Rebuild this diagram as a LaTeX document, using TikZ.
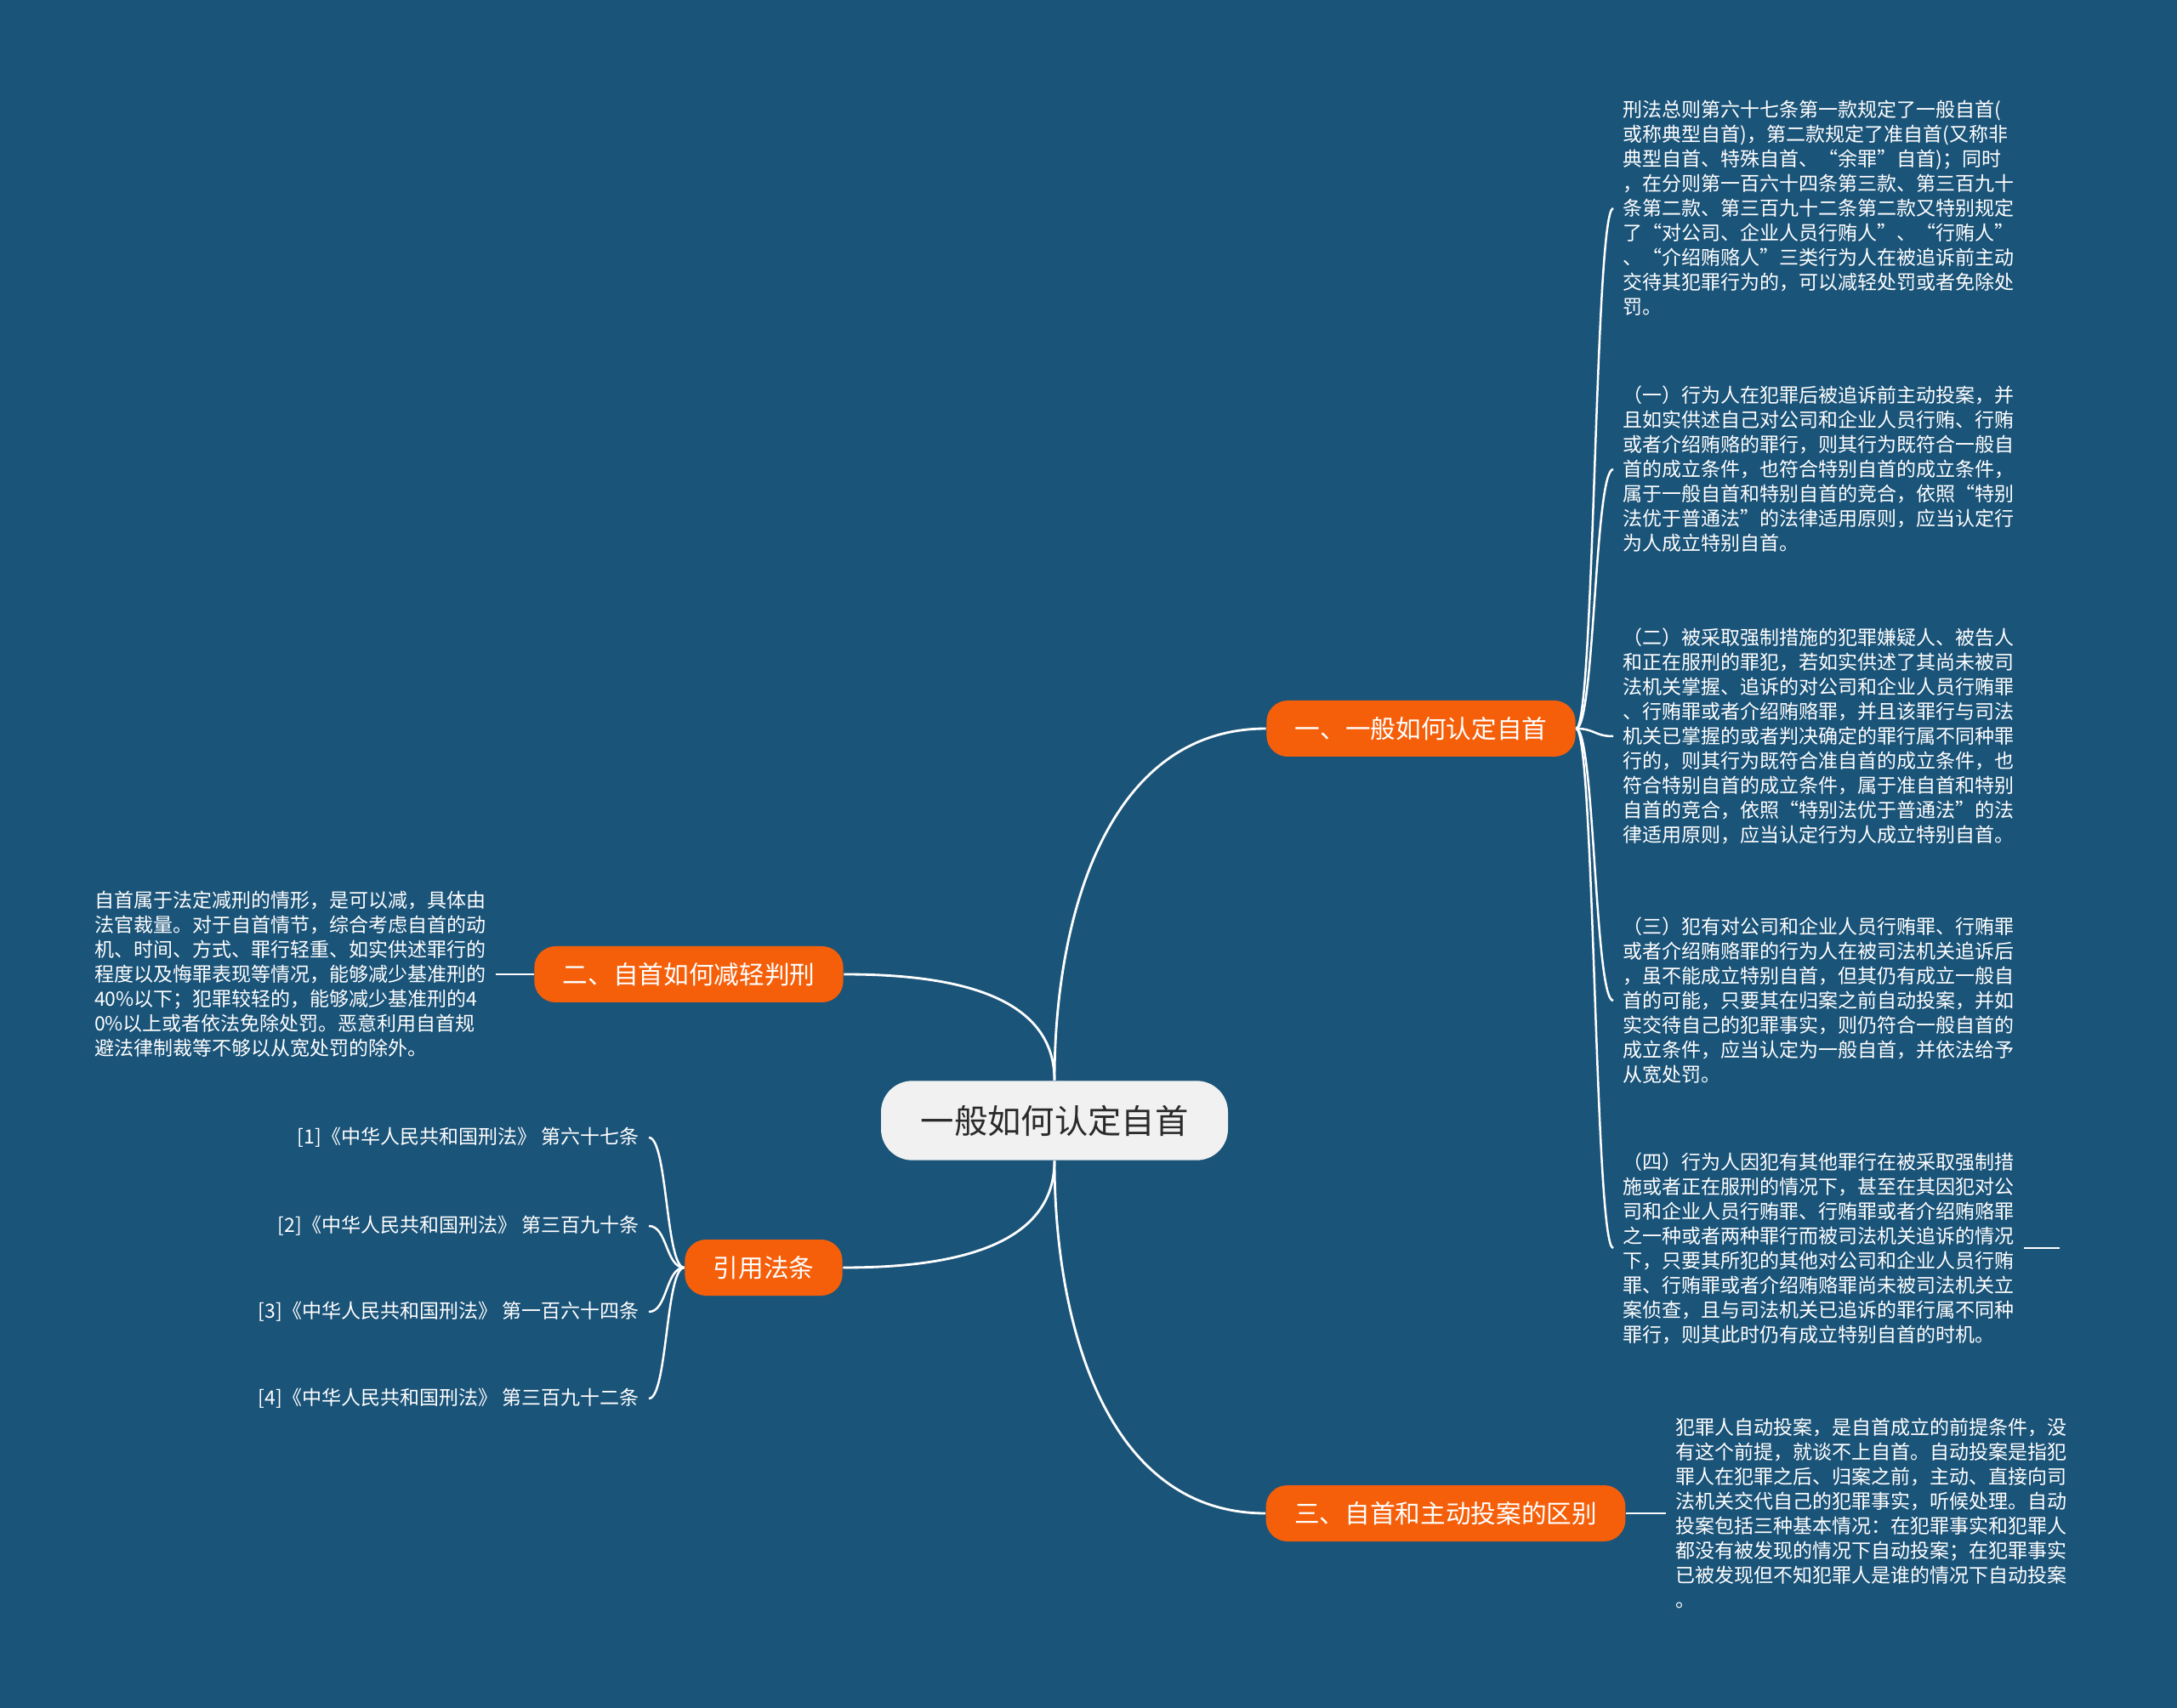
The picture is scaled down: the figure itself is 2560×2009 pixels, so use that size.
\documentclass[tikz,border=0pt]{standalone}
\usepackage{fontspec}
\setmainfont{Noto Sans CJK SC}
\usepackage{xcolor}
\usepackage{tikz}
\usetikzlibrary{positioning}
\definecolor{zsBlue}{HTML}{1B5479}
\definecolor{zsOrange}{HTML}{F55F0A}
\definecolor{zsPaper}{HTML}{F1F1F1}
\definecolor{zsInk}{HTML}{2A2A2A}
\tikzset{
  root box/.style={fill=zsPaper,text=zsInk,rounded corners=11pt,minimum height=28pt,
    inner xsep=14pt,font=\fontsize{11.8}{14}\selectfont},
  topic box/.style={fill=zsOrange,text=white,rounded corners=7.5pt,minimum height=19.8pt,
    inner xsep=10pt,font=\fontsize{8.9}{11}\selectfont},
  leaf text/.style={text=white,align=left,inner sep=3.3pt,font=\fontsize{6.9}{8.7}\selectfont},
  cite text/.style={leaf text,align=right},
  main link/.style={draw=white,line width=0.85pt},
  leaf link/.style={draw=white,line width=0.75pt,
    to path={.. controls +(22,0) and +(-22,0) .. (\tikztotarget) \tikztonodes}}
}

\begin{document}
\begin{tikzpicture}[x=0.3pt,y=-0.3pt]
\fill[zsBlue] (0,0) rectangle (2560,2009);
% centre and the four topics
\node[root box] (root) at (1240,1318) {一般如何认定自首};
\node[topic box] (one) at (1671,857) {一、一般如何认定自首};
\node[topic box] (two) at (810,1146) {二、自首如何减轻判刑};
\node[topic box] (refs) at (898,1491) {引用法条};
\node[topic box] (three) at (1700,1780) {三、自首和主动投案的区别};
\draw[main link] (root.north) to[out=90,in=180] (one.west);
\draw[main link] (root.north) to[out=90,in=0] (two.east);
\draw[main link] (root.south) to[out=-90,in=0] (refs.east);
\draw[main link] (root.south) to[out=-90,in=180] (three.west);
% 一
\node[leaf text,anchor=west] (t1) at (1897,245) {刑法总则第六十七条第一款规定了一般自首(\\
或称典型自首)，第二款规定了准自首(又称非\\
典型自首、特殊自首、“余罪”自首)；同时\\
，在分则第一百六十四条第三款、第三百九十\\
条第二款、第三百九十二条第二款又特别规定\\
了“对公司、企业人员行贿人”、“行贿人”\\
、“介绍贿赂人”三类行为人在被追诉前主动\\
交待其犯罪行为的，可以减轻处罚或者免除处\\
罚。};
\node[leaf text,anchor=west] (t2) at (1897,552) {（一）行为人在犯罪后被追诉前主动投案，并\\
且如实供述自己对公司和企业人员行贿、行贿\\
或者介绍贿赂的罪行，则其行为既符合一般自\\
首的成立条件，也符合特别自首的成立条件，\\
属于一般自首和特别自首的竞合，依照“特别\\
法优于普通法”的法律适用原则，应当认定行\\
为人成立特别自首。};
\node[leaf text,anchor=west] (t3) at (1897,866) {（二）被采取强制措施的犯罪嫌疑人、被告人\\
和正在服刑的罪犯，若如实供述了其尚未被司\\
法机关掌握、追诉的对公司和企业人员行贿罪\\
、行贿罪或者介绍贿赂罪，并且该罪行与司法\\
机关已掌握的或者判决确定的罪行属不同种罪\\
行的，则其行为既符合准自首的成立条件，也\\
符合特别自首的成立条件，属于准自首和特别\\
自首的竞合，依照“特别法优于普通法”的法\\
律适用原则，应当认定行为人成立特别自首。};
\node[leaf text,anchor=west] (t4) at (1897,1177) {（三）犯有对公司和企业人员行贿罪、行贿罪\\
或者介绍贿赂罪的行为人在被司法机关追诉后\\
，虽不能成立特别自首，但其仍有成立一般自\\
首的可能，只要其在归案之前自动投案，并如\\
实交待自己的犯罪事实，则仍符合一般自首的\\
成立条件，应当认定为一般自首，并依法给予\\
从宽处罚。};
\node[leaf text,anchor=west] (t5) at (1897,1468) {（四）行为人因犯有其他罪行在被采取强制措\\
施或者正在服刑的情况下，甚至在其因犯对公\\
司和企业人员行贿罪、行贿罪或者介绍贿赂罪\\
之一种或者两种罪行而被司法机关追诉的情况\\
下，只要其所犯的其他对公司和企业人员行贿\\
罪、行贿罪或者介绍贿赂罪尚未被司法机关立\\
案侦查，且与司法机关已追诉的罪行属不同种\\
罪行，则其此时仍有成立特别自首的时机。};
\foreach \leaf in {t1,t2,t3,t4,t5}
  \draw[leaf link] (one.east) to (\leaf.west);
\draw[leaf link] (t5.east) -- ++(42,0);
% 二
\node[leaf text,left=13.5pt of two] (t0) {自首属于法定减刑的情形，是可以减，具体由\\
法官裁量。对于自首情节，综合考虑自首的动\\
机、时间、方式、罪行轻重、如实供述罪行的\\
程度以及悔罪表现等情况，能够减少基准刑的\\
40\%以下；犯罪较轻的，能够减少基准刑的4\\
0\%以上或者依法免除处罚。恶意利用自首规\\
避法律制裁等不够以从宽处罚的除外。};
\draw[leaf link] (t0.east) -- (two.west);
% 引用法条
\node[cite text,anchor=east] (c1) at (763,1338) {{[1]}《中华人民共和国刑法》 第六十七条};
\node[cite text,anchor=east] (c2) at (763,1442) {{[2]}《中华人民共和国刑法》 第三百九十条};
\node[cite text,anchor=east] (c3) at (763,1543) {{[3]}《中华人民共和国刑法》 第一百六十四条};
\node[cite text,anchor=east] (c4) at (763,1645) {{[4]}《中华人民共和国刑法》 第三百九十二条};
\foreach \cite in {c1,c2,c3,c4}
  \draw[leaf link] (\cite.east) to (refs.west);
% 三
\node[leaf text,right=14pt of three] (t6) {犯罪人自动投案，是自首成立的前提条件，没\\
有这个前提，就谈不上自首。自动投案是指犯\\
罪人在犯罪之后、归案之前，主动、直接向司\\
法机关交代自己的犯罪事实，听候处理。自动\\
投案包括三种基本情况：在犯罪事实和犯罪人\\
都没有被发现的情况下自动投案；在犯罪事实\\
已被发现但不知犯罪人是谁的情况下自动投案\\
。};
\draw[leaf link] (three.east) -- (t6.west);
\end{tikzpicture}
\end{document}
